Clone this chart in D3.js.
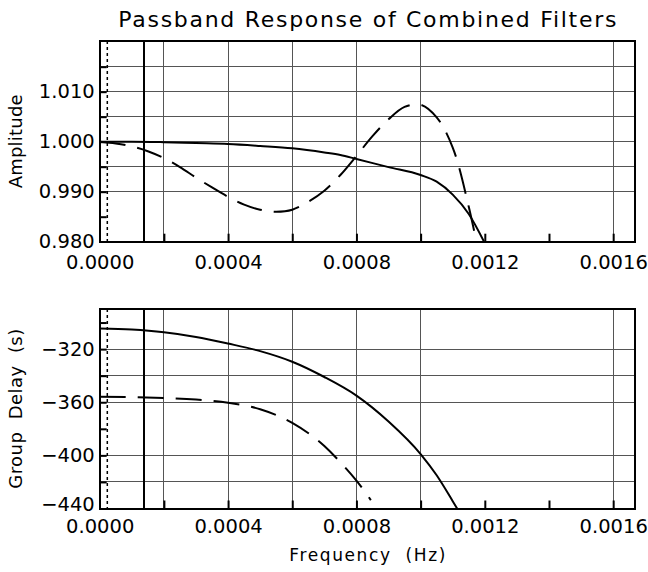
<!DOCTYPE html>
<html>
<head>
<meta charset="utf-8">
<title>Passband Response of Combined Filters</title>
<script src="https://cdn.jsdelivr.net/npm/d3@7"></script>
<style>
  body { margin: 0; background: #fff; }
  text { font-family: "DejaVu Sans", sans-serif; fill: #000; }
  .grid line { stroke: #555; stroke-width: 1; shape-rendering: crispEdges; }
  .frame { fill: none; stroke: #000; stroke-width: 2; shape-rendering: crispEdges; }
  .curve { fill: none; stroke: #000; stroke-width: 2; }
  .dashed { stroke-dasharray: 26,12; }
  .axis path { display: none; }
  .axis line { stroke: #000; stroke-width: 2; }
  .axis text { font-size: 19.5px; }
</style>
</head>
<body>
<svg width="648" height="572"></svg>
<script>
// frequency (Hz)
var freqTicks = [0, 0.0004, 0.0008, 0.0012, 0.0016];
var freqMinor = [0.0002, 0.0004, 0.0006, 0.0008, 0.0010, 0.0012, 0.0014, 0.0016];
var freqGrid = [0.0002, 0.0004, 0.0006, 0.0008, 0.0010, 0.0016];
var freqMax = 0.001668;

// vertical marker lines
var markDotted = 0.0000237;
var markSolid = 0.000138;

// amplitude panel
var ampTicks = [0.980, 0.990, 1.000, 1.010];
var ampMinor = [0.985, 0.990, 0.995, 1.000, 1.005, 1.010, 1.015];
var ampGrid = [0.990, 0.995, 1.000, 1.005, 1.010, 1.015];

var ampFreqSolid = [0, 0.0001, 0.0002, 0.0003, 0.0004, 0.0005, 0.0006, 0.0007, 0.00075, 0.0008,
                    0.0009, 0.0010, 0.00105, 0.0011, 0.00115, 0.0012];
var ampSolid = [1.0000, 1.0000, 0.99990, 0.99972, 0.99954, 0.99915, 0.99868, 0.99785, 0.99734, 0.99654,
                0.99492, 0.99334, 0.99200, 0.98941, 0.98554, 0.97970];

var ampFreqDashed = [0, 0.00005, 0.0001, 0.00015, 0.0002, 0.00025, 0.0003, 0.00035, 0.0004, 0.00045,
                     0.0005, 0.00055, 0.0006, 0.00065, 0.0007, 0.00075, 0.0008, 0.00085, 0.0009, 0.00095,
                     0.0010, 0.00105, 0.0011, 0.00115, 0.00118];
var ampDashed = [1.0000, 0.99965, 0.99905, 0.99810, 0.99672, 0.99492, 0.99282, 0.99085, 0.98898, 0.98742,
                 0.98640, 0.98600, 0.98640, 0.98800, 0.99020, 0.99334, 0.99715, 1.00111, 1.00447, 1.00695,
                 1.00740, 1.00488, 0.99883, 0.98699, 0.97800];

// group delay panel
var delayTicks = [-440, -400, -360, -320];
var delayMinor = [-420, -400, -380, -360, -340, -320, -300];
var delayGrid = [-420, -400, -360, -340, -320];

var delayFreqSolid = [0, 0.0001, 0.0002, 0.0003, 0.0004, 0.0005, 0.0006, 0.0007, 0.0008,
                      0.0009, 0.0010, 0.00105, 0.0011, 0.00112];
var delaySolid = [-304.5, -305.3, -307.3, -310.8, -315.8, -321.5, -329.5, -341, -355,
                  -374.5, -399, -415, -434.5, -442.5];

var delayFreqDashed = [0, 0.0001, 0.0002, 0.0003, 0.0004, 0.0005, 0.0006, 0.0007, 0.00075, 0.0008, 0.000845];
var delayDashed = [-355.8, -356.1, -356.8, -358.0, -360.3, -365.3, -375.5, -393.0, -405.2, -419.0, -433.7];

var svg = d3.select("svg");
var left = 99.7, right = 635;

var x = d3.scaleLinear().domain([0, freqMax]).range([left, right]);

svg.append("text")
    .attr("x", (left + right) / 2)
    .attr("y", 27)
    .attr("text-anchor", "middle")
    .attr("font-size", 22)
    .attr("textLength", 498)
    .attr("lengthAdjust", "spacing")
    .text("Passband Response of Combined Filters");

function panel(opt) {
    var y = d3.scaleLinear().domain(opt.domain).range([opt.bottom, opt.top]);
    var g = svg.append("g");
    var id = "clip" + opt.name;

    g.append("clipPath").attr("id", id)
      .append("rect")
        .attr("x", left).attr("y", opt.top)
        .attr("width", right - left).attr("height", opt.bottom - opt.top);

    var grid = g.append("g").attr("class", "grid");
    grid.selectAll(".h").data(opt.grid).enter().append("line")
        .attr("x1", left).attr("x2", right)
        .attr("y1", function(d) { return y(d); }).attr("y2", function(d) { return y(d); });
    grid.selectAll(".v").data(freqGrid).enter().append("line")
        .attr("y1", opt.top).attr("y2", opt.bottom)
        .attr("x1", function(d) { return x(d); }).attr("x2", function(d) { return x(d); });

    // marker lines
    g.append("line")
        .attr("x1", x(markDotted)).attr("x2", x(markDotted))
        .attr("y1", opt.top).attr("y2", opt.bottom)
        .attr("stroke", "#000").attr("stroke-width", 1.5).attr("stroke-dasharray", "3,3");
    g.append("line")
        .attr("x1", x(markSolid)).attr("x2", x(markSolid))
        .attr("y1", opt.top).attr("y2", opt.bottom)
        .attr("stroke", "#000").attr("stroke-width", 2);

    function line(curve) {
        return d3.line()
            .x(function(d) { return x(d[0]); })
            .y(function(d) { return y(d[1]); })
            .curve(curve);
    }

    g.append("path")
        .datum(d3.zip(opt.fSolid, opt.vSolid))
        .attr("class", "curve")
        .attr("clip-path", "url(#" + id + ")")
        .attr("d", line(d3.curveMonotoneX));
    g.append("path")
        .datum(d3.zip(opt.fDashed, opt.vDashed))
        .attr("class", "curve dashed")
        .attr("clip-path", "url(#" + id + ")")
        .attr("d", line(opt.dashCurve));

    // bottom ticks (inward) and labels
    g.append("g").attr("class", "axis")
        .attr("transform", "translate(0," + opt.bottom + ")")
        .call(d3.axisBottom(x).tickValues(freqMinor).tickSizeInner(-8).tickSizeOuter(0).tickFormat(""));
    g.append("g").attr("class", "axis")
        .attr("transform", "translate(0," + opt.bottom + ")")
        .call(d3.axisBottom(x).tickValues(freqTicks).tickSize(0).tickPadding(opt.xPad)
            .tickFormat(d3.format(".4f")));

    // left ticks (inward) and labels
    g.append("g").attr("class", "axis")
        .attr("transform", "translate(" + left + ",0)")
        .call(d3.axisLeft(y).tickValues(opt.minor).tickSizeInner(-7).tickSizeOuter(0).tickFormat(""));
    var yl = g.append("g").attr("class", "axis")
        .attr("transform", "translate(" + left + ",0)")
        .call(d3.axisLeft(y).tickValues(opt.ticks).tickSize(0).tickPadding(5).tickFormat(opt.format));
    // lowest label sits just above the corner so it clears the frequency labels
    yl.selectAll("text").filter(function(d) { return d === opt.domain[0]; })
        .attr("y", -opt.lift);

    g.append("rect").attr("class", "frame")
        .attr("x", left).attr("y", opt.top)
        .attr("width", right - left).attr("height", opt.bottom - opt.top);

    g.append("text")
        .attr("transform", "translate(22," + (opt.top + opt.bottom) / 2 + ") rotate(-90)")
        .attr("text-anchor", "middle")
        .attr("font-size", 18)
        .attr("textLength", opt.labelLen)
        .attr("lengthAdjust", "spacing")
        .style("white-space", "pre")
        .text(opt.label);
}

panel({
    name: "amp", top: 41, bottom: 241.7, domain: [0.980, 1.02014],
    grid: ampGrid, minor: ampMinor, ticks: ampTicks, format: d3.format(".3f"),
    fSolid: ampFreqSolid, vSolid: ampSolid, fDashed: ampFreqDashed, vDashed: ampDashed,
    dashCurve: d3.curveCatmullRom.alpha(0.5),
    xPad: 13, lift: 0, label: "Amplitude", labelLen: 94
});

panel({
    name: "delay", top: 309, bottom: 508.5, domain: [-440, -289.8],
    grid: delayGrid, minor: delayMinor, ticks: delayTicks,
    format: function(d) { return "\u2212" + Math.abs(d); },
    fSolid: delayFreqSolid, vSolid: delaySolid, fDashed: delayFreqDashed, vDashed: delayDashed,
    dashCurve: d3.curveMonotoneX,
    xPad: 11, lift: 4, label: "Group  Delay  (s)", labelLen: 160
});

svg.append("text")
    .attr("x", (left + right) / 2)
    .attr("y", 561)
    .attr("text-anchor", "middle")
    .attr("font-size", 17)
    .attr("textLength", 156)
    .attr("lengthAdjust", "spacing")
    .style("white-space", "pre")
    .text("Frequency  (Hz)");
</script>
</body>
</html>
